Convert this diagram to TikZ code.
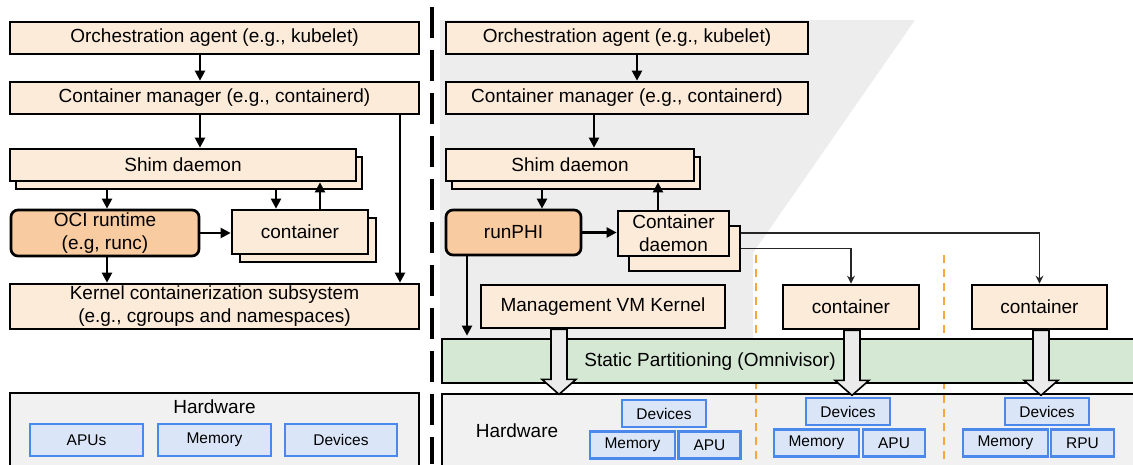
\documentclass[tikz,border=0pt]{standalone}
\usepackage{fontspec}
\setmainfont{Liberation Sans}
\usetikzlibrary{arrows.meta}
\definecolor{peach}{HTML}{FDEBD9}
\definecolor{runorange}{HTML}{F8CBA0}
\definecolor{partgreen}{HTML}{D5E8D4}
\definecolor{hwgray}{HTML}{F1F1F1}
\definecolor{hwblue}{HTML}{DAE6F8}
\definecolor{hwborder}{HTML}{4A88EC}
\definecolor{vmgray}{HTML}{EDEDED}
\definecolor{split}{HTML}{F6A63C}
\begin{document}
\begin{tikzpicture}[x=1pt, y=-1pt,
  dims/.style 2 args={minimum width=#1, minimum height=#2},
  txt/.style={font=\fontsize{19}{23}\selectfont, align=center},
  box/.style={draw, line width=2.7pt, fill=peach, inner sep=0pt, txt},
  runtime/.style={box, fill=runorange, rounded corners=7pt},
  hw/.style={draw, line width=2.7pt, fill=hwgray, inner sep=0pt},
  part/.style={draw=hwborder, line width=2.2pt, fill=hwblue, inner sep=0pt, font=\fontsize{15.5}{18}\selectfont},
  arr/.style={line width=2.2pt, -{Triangle[length=10pt, width=10pt]}},
  thinarr/.style={line width=1.1pt, draw=black!85, -{Stealth[length=8pt, width=8pt]}},
  bigarr/.style={draw, line width=1.6pt, fill=black!8, line join=miter}]
\useasboundingbox (0,0) rectangle (1133,464);

\node[box, dims={409}{32}] (orchL) at (214.5,38) {Orchestration agent (e.g., kubelet)};
\node[box, dims={409}{32}] (cmL) at (214.5,98) {Container manager (e.g., containerd)};
\node[box, dims={346}{32}] (shimLb) at (189,173) {};
\node[box, dims={346}{32}] (shimL) at (183,165) {Shim daemon};
\node[runtime, dims={188}{46}] (ociL) at (105,233) {OCI runtime\\(e.g, runc)};
\node[box, dims={136}{44}] (contLb) at (308,240) {};
\node[box, dims={136}{44}] (contL) at (300,232) {container};
\node[box, dims={409}{45}] (kernL) at (214.5,306.5) {Kernel containerization subsystem\\(e.g., cgroups and namespaces)};
\node[hw, dims={409}{80}] (hwL) at (214.5,433) {};
\node[txt] (hwLt) at (214.5,407) {Hardware};
\foreach \n/\x/\w/\t in {apuL/86.5/113/APUs, memL/214.5/113/Memory, devL/341/112/Devices}
  \node[part, dims={\w}{32}] (\n) at (\x,440) {\t};

\draw[arr] ([xshift=-14.5pt]orchL.south) -- ([xshift=-14.5pt]cmL.north);
\draw[arr] ([xshift=-14.5pt]cmL.south) -- ([xshift=17pt]shimL.north);
\draw[arr] ([xshift=185.5pt]cmL.south) -- ([xshift=185.5pt]kernL.north);
\draw[arr] ([xshift=-82pt]shimLb.south) -- ([xshift=2pt]ociL.north);
\draw[arr] ([xshift=87pt]shimLb.south) -- ([xshift=-24pt]contL.north);
\draw[arr] ([xshift=20pt]contL.north) -- ([xshift=137pt]shimL.south);
\draw[arr] (ociL.east) -- (ociL.east -| contL.west);
\draw[arr] ([xshift=2pt]ociL.south) -- ([xshift=-107.5pt]kernL.north);

\fill[vmgray] (440,20) -- (915,20) -- (753,253) -- (753,339) -- (440,339) -- cycle;
\draw[line width=3.5pt, dash pattern=on 31pt off 12pt] (432,7) -- (432,464);

\node[box, dims={362}{32}] (orchR) at (627,38) {Orchestration agent (e.g., kubelet)};
\node[box, dims={362}{32}] (cmR) at (627,98) {Container manager (e.g., containerd)};
\node[box, dims={248}{32}] (shimRb) at (576,173) {};
\node[box, dims={248}{32}] (shimR) at (570,165) {Shim daemon};
\node[runtime, dims={135}{45}] (runphi) at (513.5,232.5) {runPHI};
\node[box, dims={111}{45}] (cdRb) at (684.5,248.5) {};
\node[box, dims={111}{45}] (cdR) at (673.5,233.5) {Container\\daemon};
\node[box, dims={244}{43}] (mvk) at (603,306.5) {Management VM Kernel};
\node[box, dims={136}{44}] (cont2) at (851,307) {container};
\node[box, dims={135}{44}] (cont3) at (1039.5,307) {container};

\node[hw, dims={703}{80}] (hwR) at (793.5,434) {};
\foreach \x in {756,944}
  \draw[split, line width=2pt, dash pattern=on 8pt off 6pt] (\x,255) -- (\x,464);
\node[draw, line width=2.7pt, fill=partgreen, dims={703}{44}] (sp) at (793.5,361) {};
\node[txt] (spt) at (710,362) {Static Partitioning (Omnivisor)};
\node[txt] (hwRt) at (517,431) {Hardware};
\foreach \n/\x/\y/\w/\t in {devR1/664/413.5/84/Devices, memR1/632.5/445/85/Memory, apuR1/709.5/445/62/APU,
    devR2/848/411.5/84/Devices, memR2/816.5/443/85/Memory, apuR2/894/443/62/APU,
    devR3/1047/411.5/84/Devices, memR3/1005.5/443/85/Memory, rpuR3/1082.5/443/63/RPU}
  \node[part, dims={\w}{27}] (\n) at (\x,\y) {\t};

\draw[arr] ([xshift=10pt]orchR.south) -- ([xshift=10pt]cmR.north);
\draw[arr] ([xshift=-33pt]cmR.south) -- ([xshift=24pt]shimR.north);
\draw[arr] ([xshift=-34pt]shimRb.south) -- ([xshift=28.5pt]runphi.north);
\draw[arr] ([xshift=-15.5pt]cdR.north) -- ([xshift=88pt]shimR.south);
\draw[arr] (runphi.east) -- (runphi.east -| cdR.west);
\draw[arr, shorten >=2pt] ([xshift=-46.5pt]runphi.south) -- ([xshift=-326.5pt]sp.north);
\draw[thinarr] ([yshift=15.5pt]cdRb.east) -| (cont3.north);
\draw[thinarr] (cdRb.east) -| (cont2.north);

\foreach \s/\o in {mvk/-52, cont2/-7, cont3/-6.5}
  \draw[bigarr] ([xshift=\o pt]\s.south) -- ++(0,50) -- ++(-9,0) -- ++(17,15) -- ++(17,-15) -- ++(-9,0) -- ++(0,-50) -- cycle;
\end{tikzpicture}
\end{document}
